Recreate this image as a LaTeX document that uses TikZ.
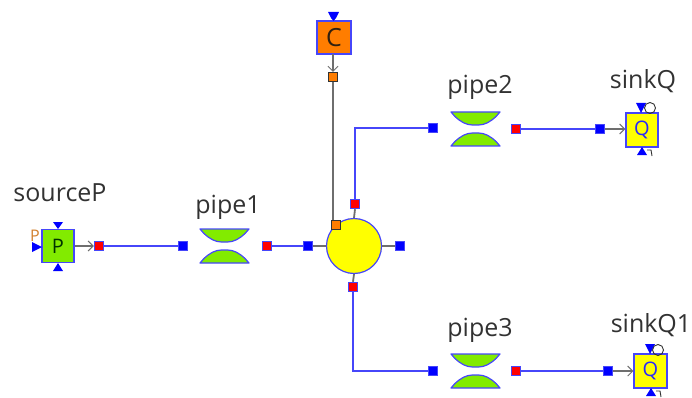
\documentclass[tikz,border=0pt]{standalone}
\usepackage{fontspec}
\setmainfont{Open Sans}
\usetikzlibrary{arrows.meta}
\definecolor{pblue}{RGB}{40,40,255}
\definecolor{lblue}{RGB}{70,70,250}
\definecolor{wgrey}{RGB}{110,110,110}
\definecolor{pgreen}{RGB}{130,235,0}
\definecolor{porange}{RGB}{255,125,0}
\definecolor{tgrey}{RGB}{50,50,50}
\definecolor{pyellow}{RGB}{255,255,0}
\tikzset{
  x=1pt,y=-1pt,
  lbl/.style={font=\fontsize{25}{28}\selectfont,text=tgrey,inner sep=0pt},
  bport/.style={draw=lblue,fill=blue,minimum size=9.5pt,inner sep=0pt,line width=.6pt},
  rport/.style={draw=lblue,fill=red,minimum size=9pt,inner sep=0pt,line width=1.4pt},
  oport/.style={draw=black!80,fill=porange,minimum size=9pt,inner sep=0pt,line width=1.1pt},
  cbox/.style={draw=lblue,line width=1.2pt,inner sep=0pt},
  hub/.style={circle,draw=lblue,fill=pyellow,line width=1.2pt,minimum size=55pt,inner sep=0pt},
  wire/.style={draw=lblue,line width=1.4pt},
  stub/.style={draw=wgrey,line width=1.8pt},
  sig/.style={draw=wgrey,line width=1.8pt,-{Straight Barb[length=5pt,width=10pt,line width=1pt]}},
  bowl/.style={draw=lblue,fill=pgreen,line width=1.2pt,line join=round},
  tri/.style={fill=blue,draw=none},
  hook/.style={draw=tgrey,line width=.9pt},
}
\newcommand{\pipeglyph}[2]{%
  \draw[bowl] (#1-24.5,#2-17) -- (#1+24.5,#2-17) -- (#1+21,#2-13) .. controls (#1+15,#2-7) and (#1+9,#2-4) .. (#1+3,#2-4) -- (#1-3,#2-4) .. controls (#1-9,#2-4) and (#1-15,#2-7) .. (#1-21,#2-13) -- cycle;
  \draw[bowl] (#1-24.5,#2+17) -- (#1+24.5,#2+17) -- (#1+21,#2+13) .. controls (#1+15,#2+7) and (#1+9,#2+4) .. (#1+3,#2+4) -- (#1-3,#2+4) .. controls (#1-9,#2+4) and (#1-15,#2+7) .. (#1-21,#2+13) -- cycle;
}
\begin{document}
\begin{tikzpicture}
\useasboundingbox (0,0) rectangle (692,398);

% source
\node[cbox,fill=pgreen,minimum width=32pt,minimum height=33pt,text=black!80!green,font=\fontsize{20}{22}\selectfont] (src) at (58,246) {P};
\fill[tri] (53,222) -- (63,222) -- (58,229) -- cycle;
\fill[tri] (58,263) -- (53,271) -- (63,271) -- cycle;
\fill[tri] (32,242) -- (32,252) -- (42,247) -- cycle;
\node[font=\fontsize{16}{17}\selectfont,text=brown!70!orange,inner sep=0pt] (srcp) at (35,236) {P};
\node[lbl] (lsrc) at (60,193) {sourceP};
\node[rport] (srcout) at (99,246) {};
\draw[sig] (src.east) -- (srcout.west);

% pipe 1
\node[bport] (p1in) at (183,246) {};
\node[rport] (p1out) at (267,246) {};
\pipeglyph{224.5}{246}
\node[lbl] (lp1) at (228,207) {pipe1};
\draw[wire] (srcout) -- (p1in);

% hub
\node[hub] (hub) at (354,246) {};
\node[bport] (hw) at (308,246) {};
\node[bport] (he) at (400,246) {};
\node[rport] (hn) at (355,204) {};
\node[rport] (hs) at (353,287) {};
\draw[wire] (p1out) -- (hw);
\draw[stub] (hw.east) -- (hub.west);
\draw[stub] (hub.east) -- (he.west);
\draw[stub] (hub.north) -- (hn.south);
\draw[stub] (hub.south) -- (hs.north);

% controller
\node[cbox,fill=porange,minimum width=34pt,minimum height=33pt,text=black!75!brown,font=\fontsize{25}{27}\selectfont] (ctl) at (334,37.5) {C};
\fill[tri] (328,12) -- (339,12) -- (336,18) -- (333.5,21) -- (331,18) -- cycle;
\node[oport] (ctlin) at (333,77) {};
\node[oport] (hubc) at (336,225) {};
\draw[sig] (333,54) -- (ctlin.north);
\draw[stub] (ctlin.south) -- (ctlin.south |- hubc.north);

% pipe 2
\node[bport] (p2in) at (433,128) {};
\node[rport] (p2out) at (516,129) {};
\pipeglyph{475.5}{129}
\node[lbl] (lp2) at (480,87) {pipe2};
\draw[wire] (hn.north) |- (p2in.west);

% sink Q
\node[cbox,fill=pyellow,minimum width=32pt,minimum height=34pt,text=pblue,font=\fontsize{20}{22}\selectfont] (snk) at (642,130) {Q};
\node[bport] (snkin) at (600,129) {};
\draw[wire] (p2out) -- (snkin);
\draw[sig] (snkin.east) -- (snk.west |- snkin);
\fill[tri] (636,103) -- (646,103) -- (641,113) -- cycle;
\draw[hook] (650,108) circle (5.5pt);
\fill[tri] (642,147) -- (637,155) -- (647,155) -- cycle;
\draw[hook] (647,150) -- (651,150) -- (652,156);
\node[lbl] (lq) at (643,81) {sinkQ};

% pipe 3
\node[bport] (p3in) at (433,371) {};
\node[rport] (p3out) at (516,371) {};
\pipeglyph{475.5}{371}
\node[lbl] (lp3) at (480,330) {pipe3};
\draw[wire] (hs.south) |- (p3in.west);

% sink Q1
\node[cbox,fill=pyellow,minimum width=33pt,minimum height=34pt,text=pblue,font=\fontsize{20}{22}\selectfont] (snko) at (650.5,371) {Q};
\node[bport] (snkoin) at (608,371) {};
\draw[wire] (p3out) -- (snkoin);
\draw[sig] (snkoin.east) -- (snko.west |- snkoin);
\fill[tri] (645,344) -- (655,344) -- (650,354) -- cycle;
\draw[hook] (658,350) circle (5.5pt);
\fill[tri] (651,388) -- (646,396) -- (656,396) -- cycle;
\draw[hook] (656,391) -- (660,391) -- (661,397);
\node[lbl] (lq1) at (651,325) {sinkQ1};
\end{tikzpicture}
\end{document}
